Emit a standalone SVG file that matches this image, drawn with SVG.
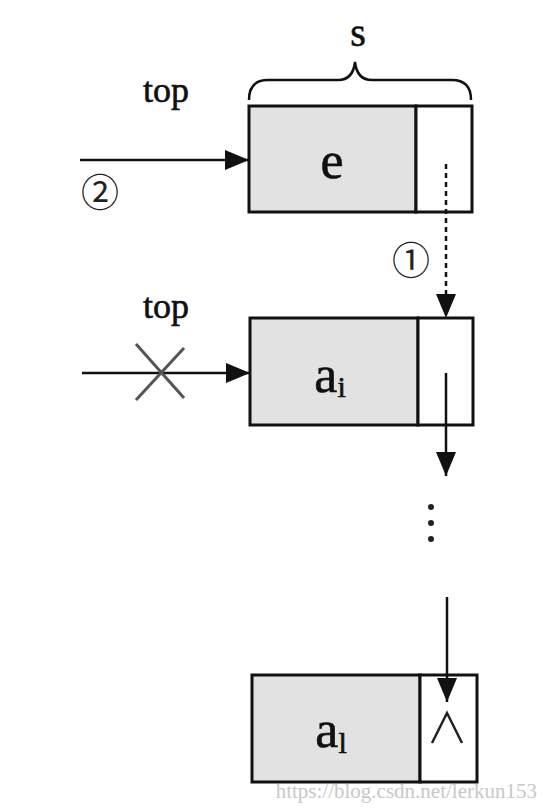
<svg xmlns="http://www.w3.org/2000/svg" width="548" height="810" viewBox="0 0 548 810">
<defs>
<style>
.data{fill:#e2e2e2;stroke:#111;stroke-width:3}
.ptr{fill:#fff;stroke:#111;stroke-width:3}
.ln{stroke:#111;stroke-width:2.5;fill:none}
.t{font-family:"Liberation Serif","Times New Roman",serif;fill:#111;stroke:#111;stroke-width:0.6}
.c{font-family:"Noto Sans CJK SC","DejaVu Sans",sans-serif;fill:#222}
</style>
<marker id="ahb" viewBox="0 0 24 20" refX="24" refY="10" markerWidth="24" markerHeight="20" markerUnits="userSpaceOnUse" orient="auto">
<path d="M0,0 L24,10 L0,20 z" fill="#111"/>
</marker>
</defs>
<rect width="548" height="810" fill="#fff"/>

<g id="labels">
<text class="t" x="358" y="46" font-size="40" text-anchor="middle">s</text>
<path class="ln" d="M249,100 Q249,80 268,80 L338,80 Q353,80 355,62 Q357,80 372,80 L452,80 Q471,80 471,100"/>
<text class="t" x="166" y="102" font-size="36" text-anchor="middle">top</text>
<text class="t" x="166" y="318" font-size="36" text-anchor="middle">top</text>
<text class="c" x="100" y="206" font-size="38" text-anchor="middle">②</text>
<text class="c" x="411" y="274" font-size="38" text-anchor="middle">①</text>
</g>

<g id="node-e">
<rect class="data" x="249" y="106" width="167" height="106"/>
<rect class="ptr" x="416" y="106" width="56" height="106"/>
<text class="t" x="332" y="178" font-size="52" text-anchor="middle">e</text>
</g>

<g id="node-ai">
<rect class="data" x="250" y="318" width="168" height="107"/>
<rect class="ptr" x="418" y="318" width="55" height="107"/>
<text class="t" x="330" y="392" font-size="52" text-anchor="middle">a<tspan font-size="30" dy="5">i</tspan></text>
</g>

<g id="node-al">
<rect class="data" x="252" y="675" width="168" height="107"/>
<rect class="ptr" x="420" y="675" width="57" height="107"/>
<text class="t" x="331" y="747" font-size="52" text-anchor="middle">a<tspan font-size="30" dy="6">l</tspan></text>
<path d="M432,743 L447,713 L462,743" fill="none" stroke="#222" stroke-width="2.5"/>
</g>

<g id="connectors">
<line class="ln" x1="80" y1="160" x2="249" y2="160" marker-end="url(#ahb)"/>
<line class="ln" x1="82" y1="373" x2="250" y2="373" marker-end="url(#ahb)"/>
<line class="ln" x1="446" y1="164" x2="446" y2="318" stroke-dasharray="5,4" marker-end="url(#ahb)"/>
<line class="ln" x1="446" y1="373" x2="446" y2="476" marker-end="url(#ahb)"/>
<line class="ln" x1="447" y1="597" x2="447" y2="702" marker-end="url(#ahb)"/>
<g stroke="#555" stroke-width="3">
<line x1="136" y1="344" x2="184" y2="398"/>
<line x1="184" y1="348" x2="136" y2="400"/>
</g>
<circle cx="431" cy="507" r="3" fill="#222"/>
<circle cx="431" cy="523" r="3" fill="#222"/>
<circle cx="431" cy="539" r="3" fill="#222"/>
</g>

<text x="537" y="798" font-family="Liberation Serif, serif" font-size="21" fill="#c8c8c8" text-anchor="end">https://blog.csdn.net/lerkun153</text>
</svg>
